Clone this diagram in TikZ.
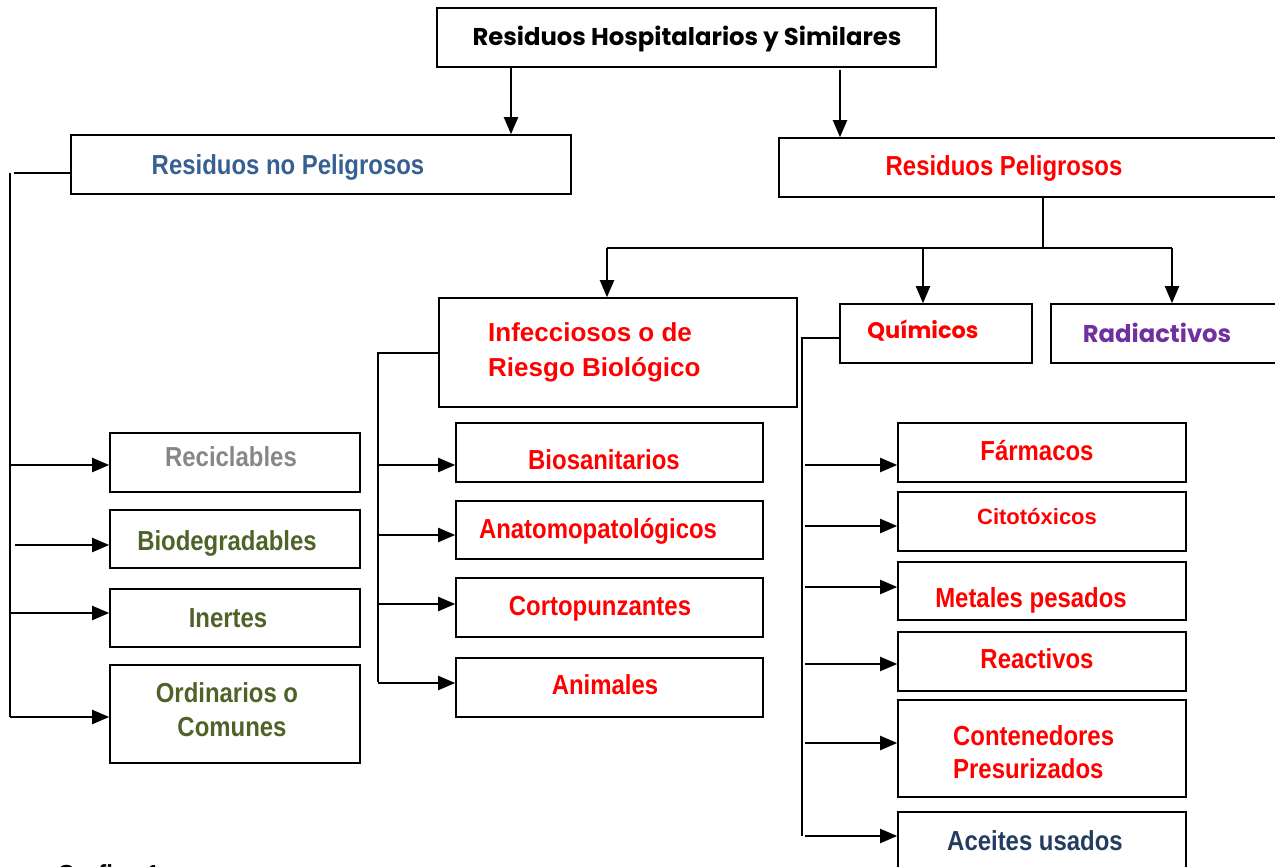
\documentclass[tikz,border=0pt]{standalone}
\usepackage{fontspec}
\setmainfont{Liberation Sans}
\newfontfamily\narrowfont{Liberation Sans}[FakeStretch=0.87]
\newfontfamily\gothicfont{Poppins}
\usetikzlibrary{arrows.meta}
\definecolor{azulnp}{RGB}{54,96,146}
\definecolor{rojo}{RGB}{255,0,0}
\definecolor{grisrec}{RGB}{135,135,135}
\definecolor{verde}{RGB}{79,98,40}
\definecolor{morado}{RGB}{112,48,160}
\definecolor{azulac}{RGB}{36,60,96}
\tikzset{
  caja/.style={draw, line width=1.6pt, inner sep=0pt},
  ln/.style={line width=2pt},
  arr/.style={line width=2pt, -{Triangle[length=17pt,width=14pt]}},
  tn/.style={font=\narrowfont\fontsize{27.5}{33}\selectfont\bfseries, anchor=base, inner sep=0pt},
  tr/.style={font=\fontsize{26}{35}\selectfont\bfseries, anchor=base, inner sep=0pt},
  tg/.style={font=\gothicfont\fontsize{24.3}{29}\selectfont\bfseries, anchor=base, inner sep=0pt},
}
\begin{document}
\begin{tikzpicture}[x=1pt,y=-1pt]
    \useasboundingbox (0,0) rectangle (1275,867);
    %% main boxes
    \node[caja, minimum width=499pt, minimum height=59pt] (tit) at (686.5,37.5) {};
    \node[caja, minimum width=500pt, minimum height=59pt] (nop) at (321,164.5) {};
    \node[caja, minimum width=528pt, minimum height=59pt] (pel) at (1043,167.5) {};
    \node[caja, minimum width=358pt, minimum height=109pt] (inf) at (618,352.5) {};
    \node[caja, minimum width=192pt, minimum height=59pt] (qui) at (936,333.5) {};
    \node[caja, minimum width=242pt, minimum height=59pt] (rad) at (1172,333.5) {};
    %% columns
    \foreach \n/\y/\h in {rec/462.5/59, bio/539/58, ine/618/58, ord/714/98}
        \node[caja, minimum width=250pt, minimum height=\h pt] (\n) at (235,\y) {};
    \foreach \n/\y/\h in {bsa/452.5/59, ana/530/58, cor/607.5/59, ani/687.5/59}
        \node[caja, minimum width=307pt, minimum height=\h pt] (\n) at (609.5,\y) {};
    \foreach \n/\y/\h in {far/452.5/59, cit/521.5/59, met/591/58, rea/661.5/59, con/748.5/97, ace/846/68}
        \node[caja, minimum width=288pt, minimum height=\h pt] (\n) at (1042,\y) {};
    %% texts
    \node[tg] (titT) at (687,46) {Residuos Hospitalarios y Similares};
    \node[tn, text=azulnp] (nopT) at (288,174) {Residuos no Peligrosos};
    \node[tn, text=rojo] (pelT) at (1004,175) {Residuos Peligrosos};
    \node[tr, text=rojo, anchor=base west] (infT1) at (488,341) {Infecciosos o de};
    \node[tr, text=rojo, anchor=base west] (infT2) at (488,376) {Riesgo Biológico};
    \node[tg, text=rojo, font=\gothicfont\fontsize{22.5}{27}\selectfont\bfseries] (quiT) at (923,338) {Químicos};
    \node[tg, text=morado] (radT) at (1157,342) {Radiactivos};
    \node[tn, text=grisrec] (recT) at (231,466) {Reciclables};
    \node[tn, text=verde] (bioT) at (227,550) {Biodegradables};
    \node[tn, text=verde] (ineT) at (228,627) {Inertes};
    \node[tn, text=verde] (ordT1) at (227,702) {Ordinarios o};
    \node[tn, text=verde] (ordT2) at (232,736) {Comunes};
    \node[tn, text=rojo] (bsaT) at (604,469) {Biosanitarios};
    \node[tn, text=rojo] (anaT) at (598,538) {Anatomopatológicos};
    \node[tn, text=rojo] (corT) at (600,615) {Cortopunzantes};
    \node[tn, text=rojo] (aniT) at (605,694) {Animales};
    \node[tn, text=rojo] (farT) at (1037,460) {Fármacos};
    \node[tr, text=rojo, font=\fontsize{22}{26}\selectfont\bfseries] (citT) at (1037,524) {Citotóxicos};
    \node[tn, text=rojo] (metT) at (1031,607) {Metales pesados};
    \node[tn, text=rojo] (reaT) at (1037,668) {Reactivos};
    \node[tn, text=rojo, anchor=base west] (conT1) at (953,745) {Contenedores};
    \node[tn, text=rojo, anchor=base west] (conT2) at (953,778) {Presurizados};
    \node[tn, text=azulac] (aceT) at (1035,850) {Aceites usados};
    \node[tn, anchor=base west] (graf) at (57,884) {Grafica 1};
    %% title to groups
    \coordinate (a1) at (511,0);
    \coordinate (a2) at (840,0);
    \draw[arr] (a1 |- tit.south) -- (a1 |- nop.north);
    \draw[arr] (840,70) -- (a2 |- pel.north);
    %% peligrosos branches
    \coordinate (bar) at (1043,248);
    \coordinate (bl) at (607,248);
    \coordinate (bm) at (923,248);
    \coordinate (br) at (1172,248);
    \draw[ln] (pel.south) -- (bar);
    \draw[ln] (bl) -- (br);
    \draw[arr] (bl) -- (bl |- inf.north);
    \draw[arr] (bm) -- (bm |- qui.north);
    \draw[arr] (br) -- (rad.north);
    %% no peligrosos
    \coordinate (Lt) at (10,173);
    \coordinate (Lb) at (10,717);
    \draw[ln] (14,173) -- (nop.west |- Lt);
    \draw[ln] (Lt) -- (Lb);
    \foreach \n/\y in {rec/465, ine/613, ord/717}
        \draw[arr] (10,\y) -- (\n.west |- 10,\y);
    \draw[arr] (15,545) -- (bio.west |- 15,545);
    %% infecciosos
    \coordinate (Mt) at (378,352.5);
    \coordinate (Mb) at (378,682);
    \draw[ln] (inf.west) -- (Mt) -- (Mb);
    \foreach \n/\y in {bsa/465, ana/535, cor/604, ani/683}
        \draw[arr] (378,\y) -- (\n.west |- 378,\y);
    %% quimicos
    \coordinate (Rt) at (802,338);
    \coordinate (Rb) at (802,836);
    \draw[ln] (qui.west |- Rt) -- (Rt) -- (Rb);
    \foreach \n/\y in {far/465, cit/526, met/587, rea/664, con/743, ace/836}
        \draw[arr] (805,\y) -- (\n.west |- 805,\y);
\end{tikzpicture}
\end{document}
